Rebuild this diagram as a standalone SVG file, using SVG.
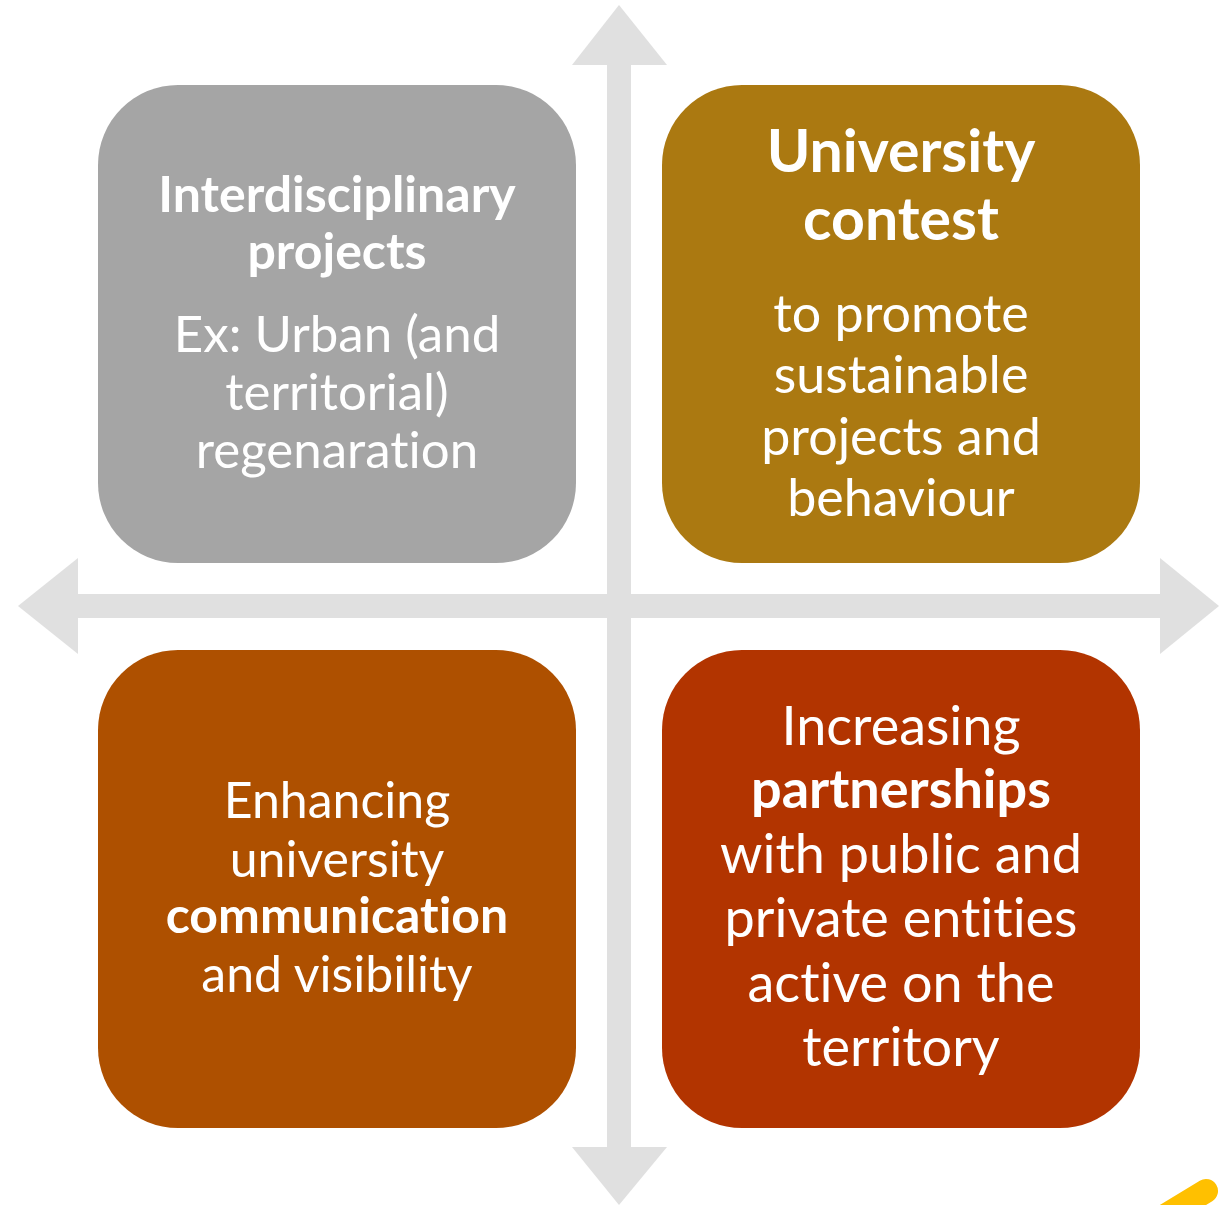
<svg xmlns="http://www.w3.org/2000/svg" width="1220" height="1205" viewBox="0 0 1220 1205">
<style>
.t{font-family:Lato,"Open Sans","Liberation Sans",sans-serif;fill:#fff;text-anchor:middle;font-variant-ligatures:none}
.b{font-weight:bold}
.ar{fill:#E0E0E0}
</style>
<rect width="1220" height="1205" fill="#fff"/>
<g id="connectors">
<rect class="ar" x="78" y="594" width="1082" height="24"/>
<polygon class="ar" points="18,606 78,558 78,654"/>
<polygon class="ar" points="1219,606 1160,558 1160,654"/>
<rect class="ar" x="607" y="65" width="24" height="1082"/>
<polygon class="ar" points="619,5 572,65 667,65"/>
<polygon class="ar" points="619,1205 572,1147 667,1147"/>
</g>
<g id="node-interdisciplinary">
<rect x="98" y="85" width="478" height="478" rx="80" fill="#A5A5A5"/>
<text class="t b" x="337" y="212" font-size="50">Interdisciplinary</text>
<text class="t b" x="337" y="269" font-size="50">projects</text>
<text class="t" x="337" y="352" font-size="51">Ex: Urban (and</text>
<text class="t" x="337" y="410" font-size="51">territorial)</text>
<text class="t" x="337" y="468" font-size="51">regenaration</text>
</g>
<g id="node-contest">
<rect x="662" y="85" width="478" height="478" rx="80" fill="#AB7911"/>
<text class="t b" x="901" y="172" font-size="59">University</text>
<text class="t b" x="901" y="240" font-size="59">contest</text>
<text class="t" x="901" y="332" font-size="52">to promote</text>
<text class="t" x="901" y="393" font-size="52">sustainable</text>
<text class="t" x="901" y="455" font-size="52">projects and</text>
<text class="t" x="901" y="516" font-size="52">behaviour</text>
</g>
<g id="node-communication">
<rect x="98" y="650" width="478" height="478" rx="80" fill="#AE5000"/>
<text class="t" x="337" y="818" font-size="50">Enhancing</text>
<text class="t" x="337" y="877" font-size="50">university</text>
<text class="t b" x="337" y="933" font-size="50">communication</text>
<text class="t" x="337" y="992" font-size="50">and visibility</text>
</g>
<g id="node-partnerships">
<rect x="662" y="650" width="478" height="478" rx="80" fill="#B23400"/>
<text class="t" x="901" y="745" font-size="54">Increasing</text>
<text class="t b" x="901" y="808" font-size="54">partnerships</text>
<text class="t" x="901" y="873" font-size="54">with public and</text>
<text class="t" x="901" y="937" font-size="54">private entities</text>
<text class="t" x="901" y="1002" font-size="54">active on the</text>
<text class="t" x="901" y="1066" font-size="54">territory</text>
</g>
<line x1="1150" y1="1225" x2="1206" y2="1191" stroke="#FFC000" stroke-width="24" stroke-linecap="round"/>
</svg>
